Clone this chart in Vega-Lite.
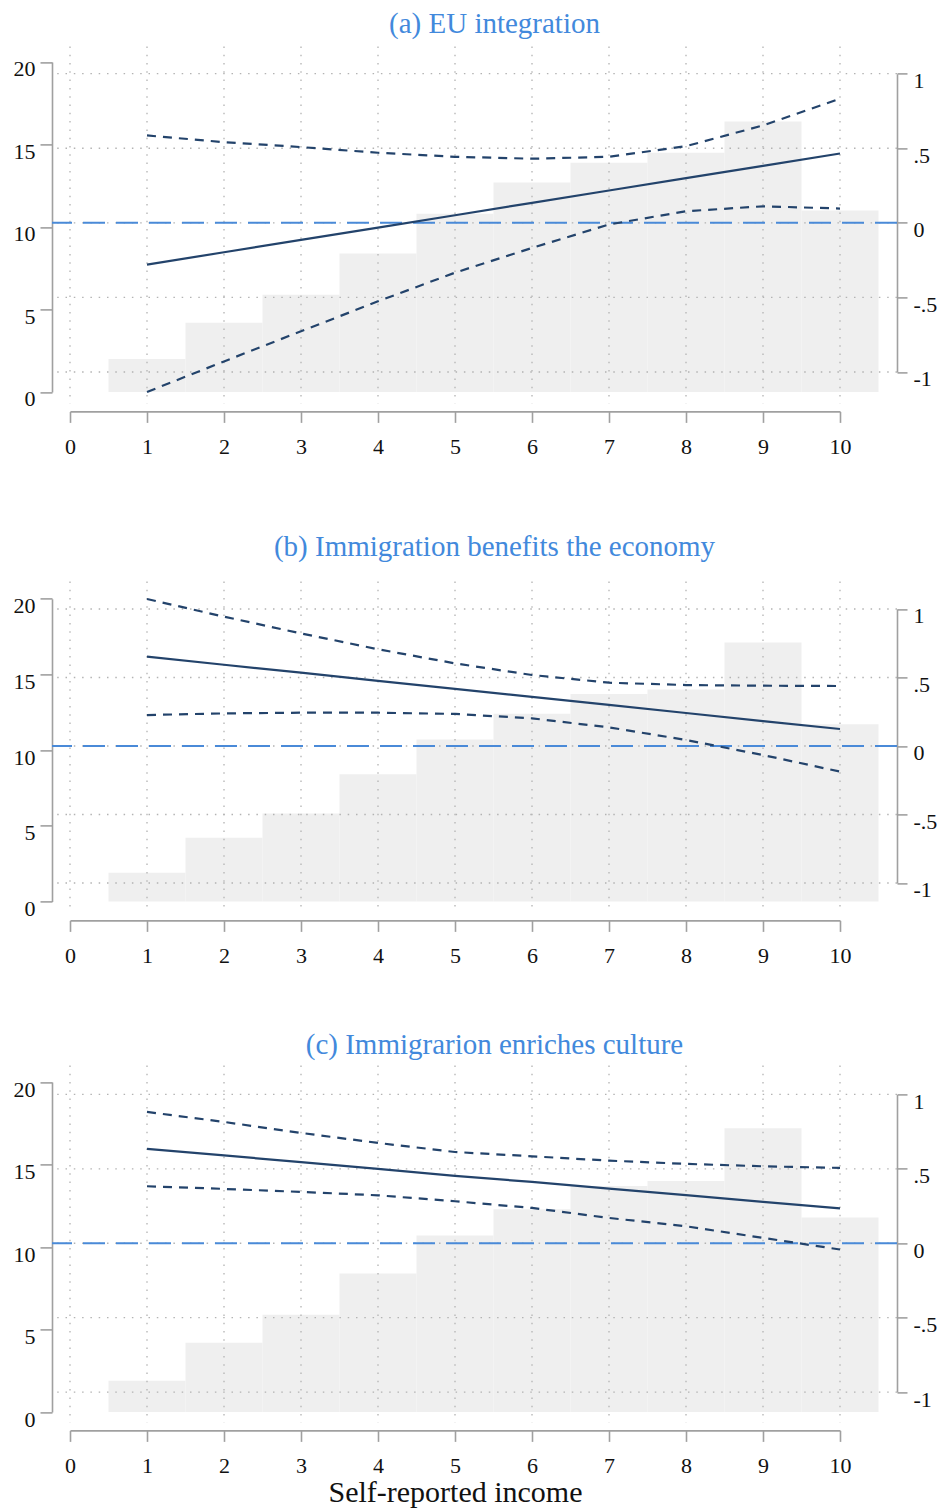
{
  "$schema": "https://vega.github.io/schema/vega-lite/v6.json",
  "padding": {"left": 13, "top": 10.4, "right": 5, "bottom": 5},
  "background": "white",
  "datasets": {
    "hist": [
      {"p": "a", "x": 1, "pct": 2.0}, {"p": "a", "x": 2, "pct": 4.2}, {"p": "a", "x": 3, "pct": 5.9}, {"p": "a", "x": 4, "pct": 8.4}, {"p": "a", "x": 5, "pct": 10.8},
      {"p": "a", "x": 6, "pct": 12.7}, {"p": "a", "x": 7, "pct": 13.9}, {"p": "a", "x": 8, "pct": 14.5}, {"p": "a", "x": 9, "pct": 16.4}, {"p": "a", "x": 10, "pct": 11.0},
      {"p": "b", "x": 1, "pct": 1.9}, {"p": "b", "x": 2, "pct": 4.2}, {"p": "b", "x": 3, "pct": 5.8}, {"p": "b", "x": 4, "pct": 8.4}, {"p": "b", "x": 5, "pct": 10.7},
      {"p": "b", "x": 6, "pct": 12.4}, {"p": "b", "x": 7, "pct": 13.7}, {"p": "b", "x": 8, "pct": 14.0}, {"p": "b", "x": 9, "pct": 17.1}, {"p": "b", "x": 10, "pct": 11.7},
      {"p": "c", "x": 1, "pct": 1.9}, {"p": "c", "x": 2, "pct": 4.2}, {"p": "c", "x": 3, "pct": 5.9}, {"p": "c", "x": 4, "pct": 8.4}, {"p": "c", "x": 5, "pct": 10.7},
      {"p": "c", "x": 6, "pct": 12.3}, {"p": "c", "x": 7, "pct": 13.7}, {"p": "c", "x": 8, "pct": 14.0}, {"p": "c", "x": 9, "pct": 17.2}, {"p": "c", "x": 10, "pct": 11.8}
    ],
    "ci": [
      {"p": "a", "x": 1, "est": -0.28, "lo": -1.134, "hi": 0.586},
      {"p": "a", "x": 2, "est": -0.197, "lo": -0.929, "hi": 0.541},
      {"p": "a", "x": 3, "est": -0.114, "lo": -0.727, "hi": 0.508},
      {"p": "a", "x": 4, "est": -0.032, "lo": -0.526, "hi": 0.47},
      {"p": "a", "x": 5, "est": 0.051, "lo": -0.334, "hi": 0.443},
      {"p": "a", "x": 6, "est": 0.134, "lo": -0.168, "hi": 0.43},
      {"p": "a", "x": 7, "est": 0.217, "lo": -0.011, "hi": 0.443},
      {"p": "a", "x": 8, "est": 0.30, "lo": 0.078, "hi": 0.514},
      {"p": "a", "x": 9, "est": 0.382, "lo": 0.111, "hi": 0.653},
      {"p": "a", "x": 10, "est": 0.465, "lo": 0.096, "hi": 0.832},
      {"p": "b", "x": 1, "est": 0.652, "lo": 0.226, "hi": 1.073},
      {"p": "b", "x": 2, "est": 0.593, "lo": 0.238, "hi": 0.944},
      {"p": "b", "x": 3, "est": 0.535, "lo": 0.243, "hi": 0.822},
      {"p": "b", "x": 4, "est": 0.476, "lo": 0.243, "hi": 0.706},
      {"p": "b", "x": 5, "est": 0.417, "lo": 0.234, "hi": 0.603},
      {"p": "b", "x": 6, "est": 0.359, "lo": 0.202, "hi": 0.518},
      {"p": "b", "x": 7, "est": 0.300, "lo": 0.136, "hi": 0.462},
      {"p": "b", "x": 8, "est": 0.241, "lo": 0.044, "hi": 0.445},
      {"p": "b", "x": 9, "est": 0.182, "lo": -0.066, "hi": 0.44},
      {"p": "b", "x": 10, "est": 0.124, "lo": -0.187, "hi": 0.438},
      {"p": "c", "x": 1, "est": 0.634, "lo": 0.383, "hi": 0.882},
      {"p": "c", "x": 2, "est": 0.59, "lo": 0.365, "hi": 0.815},
      {"p": "c", "x": 3, "est": 0.545, "lo": 0.345, "hi": 0.741},
      {"p": "c", "x": 4, "est": 0.5, "lo": 0.322, "hi": 0.674},
      {"p": "c", "x": 5, "est": 0.452, "lo": 0.282, "hi": 0.613},
      {"p": "c", "x": 6, "est": 0.412, "lo": 0.237, "hi": 0.584},
      {"p": "c", "x": 7, "est": 0.367, "lo": 0.17, "hi": 0.555},
      {"p": "c", "x": 8, "est": 0.323, "lo": 0.114, "hi": 0.533},
      {"p": "c", "x": 9, "est": 0.278, "lo": 0.036, "hi": 0.517},
      {"p": "c", "x": 10, "est": 0.234, "lo": -0.042, "hi": 0.506}
    ],
    "xgrid": [{"g": 0}, {"g": 1}, {"g": 2}, {"g": 3}, {"g": 4}, {"g": 5}, {"g": 6}, {"g": 7}, {"g": 8}, {"g": 9}, {"g": 10}],
    "ygrid": [{"v": -1}, {"v": -0.5}, {"v": 0}, {"v": 0.5}, {"v": 1}]
  },
  "vconcat": [
    {
      "title": {"text": "(a) EU integration", "offset": 6.3, "dx": 20},
      "width": 845,
      "height": 357,
      "layer": [
        {
          "data": {"name": "hist"},
          "transform": [{"filter": "datum.p == 'a'"}],
          "mark": {"type": "bar", "width": 77, "color": "#efefef"},
          "encoding": {
            "x": {"field": "x", "type": "quantitative", "scale": {"domain": [0, 10], "range": [18, 788], "padding": 0, "nice": false, "zero": false},
              "axis": {"values": [0,1,2,3,4,5,6,7,8,9,10], "format": "d", "tickSize": 11, "offset": 8, "labelPadding": 14, "labelBaseline": "top", "grid": false, "labelFlush": false, "labelOverlap": false, "title": " ", "titleFontSize": 10, "titlePadding": 2, "titleBaseline": "top"}},
            "y": {"field": "pct", "type": "quantitative", "scale": {"domain": [0, 20], "range": [345.6, 15.6]},
              "axis": {"orient": "left", "values": [0, 5, 10, 15, 20], "format": "d", "tickSize": 12, "labelPadding": 5, "labelOffset": 7, "grid": false, "title": null}}
          }
        },
        {
          "layer": [
            {
              "data": {"name": "xgrid"},
              "mark": {"type": "rule", "color": "#b3b3b3", "strokeWidth": 1.3, "strokeDash": [1.5, 6.8]},
              "encoding": {"x": {"field": "g", "type": "quantitative"}}
            },
            {
              "data": {"name": "ygrid"},
              "mark": {"type": "rule", "color": "#b3b3b3", "strokeWidth": 1.3, "strokeDash": [1.5, 6.8]},
              "encoding": {"y": {"field": "v", "type": "quantitative"}}
            },
            {
              "data": {"values": [{}]},
              "mark": {"type": "rule", "color": "#4a8ad8", "strokeWidth": 2, "strokeDash": [22, 11]},
              "encoding": {
                "y": {"datum": 0, "type": "quantitative", "scale": {"domain": [-1, 1], "range": [325.6, 27.3]},
                  "axis": {"orient": "right", "values": [-1, -0.5, 0, 0.5, 1], "tickSize": 10, "labelPadding": 6, "labelOffset": 7, "grid": false, "title": null, "labelExpr": "datum.value == 1 ? '1' : datum.value == 0.5 ? '.5' : datum.value == 0 ? '0' : datum.value == -0.5 ? '-.5' : '-1'"}}
              }
            },
            {
              "data": {"name": "ci"},
              "transform": [{"filter": "datum.p == 'a'"}],
              "mark": {"type": "line", "color": "#23436b", "strokeWidth": 2.2},
              "encoding": {"x": {"field": "x", "type": "quantitative"}, "y": {"field": "est", "type": "quantitative"}}
            },
            {
              "data": {"name": "ci"},
              "transform": [{"filter": "datum.p == 'a'"}],
              "mark": {"type": "line", "color": "#23436b", "strokeWidth": 2.2, "strokeDash": [9, 7]},
              "encoding": {"x": {"field": "x", "type": "quantitative"}, "y": {"field": "lo", "type": "quantitative"}}
            },
            {
              "data": {"name": "ci"},
              "transform": [{"filter": "datum.p == 'a'"}],
              "mark": {"type": "line", "color": "#23436b", "strokeWidth": 2.2, "strokeDash": [9, 7]},
              "encoding": {"x": {"field": "x", "type": "quantitative"}, "y": {"field": "hi", "type": "quantitative"}}
            }
          ]
        }
      ],
      "resolve": {"scale": {"y": "independent"}}
    },
    {
      "title": {"text": "(b) Immigration benefits the economy", "offset": 18.3, "dx": 20},
      "width": 845,
      "height": 332,
      "layer": [
        {
          "data": {"name": "hist"},
          "transform": [{"filter": "datum.p == 'b'"}],
          "mark": {"type": "bar", "width": 77, "color": "#efefef"},
          "encoding": {
            "x": {"field": "x", "type": "quantitative", "scale": {"domain": [0, 10], "range": [18, 788], "padding": 0, "nice": false, "zero": false},
              "axis": {"values": [0,1,2,3,4,5,6,7,8,9,10], "format": "d", "tickSize": 11, "offset": 7, "labelPadding": 14, "labelBaseline": "top", "grid": false, "labelFlush": false, "labelOverlap": false, "title": null}},
            "y": {"field": "pct", "type": "quantitative", "scale": {"domain": [0, 20], "range": [320, 17.3]},
              "axis": {"orient": "left", "values": [0, 5, 10, 15, 20], "format": "d", "tickSize": 12, "labelPadding": 5, "labelOffset": 7, "grid": false, "title": null}}
          }
        },
        {
          "layer": [
            {
              "data": {"name": "xgrid"},
              "mark": {"type": "rule", "color": "#b3b3b3", "strokeWidth": 1.3, "strokeDash": [1.5, 6.8]},
              "encoding": {"x": {"field": "g", "type": "quantitative"}}
            },
            {
              "data": {"name": "ygrid"},
              "mark": {"type": "rule", "color": "#b3b3b3", "strokeWidth": 1.3, "strokeDash": [1.5, 6.8]},
              "encoding": {"y": {"field": "v", "type": "quantitative"}}
            },
            {
              "data": {"values": [{}]},
              "mark": {"type": "rule", "color": "#4a8ad8", "strokeWidth": 2, "strokeDash": [22, 11]},
              "encoding": {
                "y": {"datum": 0, "type": "quantitative", "scale": {"domain": [-1, 1], "range": [301.6, 27.6]},
                  "axis": {"orient": "right", "values": [-1, -0.5, 0, 0.5, 1], "tickSize": 10, "labelPadding": 6, "labelOffset": 7, "grid": false, "title": null, "labelExpr": "datum.value == 1 ? '1' : datum.value == 0.5 ? '.5' : datum.value == 0 ? '0' : datum.value == -0.5 ? '-.5' : '-1'"}}
              }
            },
            {
              "data": {"name": "ci"},
              "transform": [{"filter": "datum.p == 'b'"}],
              "mark": {"type": "line", "color": "#23436b", "strokeWidth": 2.2},
              "encoding": {"x": {"field": "x", "type": "quantitative"}, "y": {"field": "est", "type": "quantitative"}}
            },
            {
              "data": {"name": "ci"},
              "transform": [{"filter": "datum.p == 'b'"}],
              "mark": {"type": "line", "color": "#23436b", "strokeWidth": 2.2, "strokeDash": [9, 7]},
              "encoding": {"x": {"field": "x", "type": "quantitative"}, "y": {"field": "lo", "type": "quantitative"}}
            },
            {
              "data": {"name": "ci"},
              "transform": [{"filter": "datum.p == 'b'"}],
              "mark": {"type": "line", "color": "#23436b", "strokeWidth": 2.2, "strokeDash": [9, 7]},
              "encoding": {"x": {"field": "x", "type": "quantitative"}, "y": {"field": "hi", "type": "quantitative"}}
            }
          ]
        }
      ],
      "resolve": {"scale": {"y": "independent"}}
    },
    {
      "title": {"text": "(c) Immigrarion enriches culture", "offset": 4.9, "dx": 20},
      "width": 845,
      "height": 357,
      "layer": [
        {
          "data": {"name": "hist"},
          "transform": [{"filter": "datum.p == 'c'"}],
          "mark": {"type": "bar", "width": 77, "color": "#efefef"},
          "encoding": {
            "x": {"field": "x", "type": "quantitative", "scale": {"domain": [0, 10], "range": [18, 788], "padding": 0, "nice": false, "zero": false},
              "axis": {"values": [0,1,2,3,4,5,6,7,8,9,10], "format": "d", "tickSize": 11, "offset": 8, "labelPadding": 14, "labelBaseline": "top", "grid": false, "labelFlush": false, "labelOverlap": false, "title": "Self-reported income", "titleFontSize": 30, "titlePadding": 25, "titleBaseline": "alphabetic"}},
            "y": {"field": "pct", "type": "quantitative", "scale": {"domain": [0, 20], "range": [346.7, 16.7]},
              "axis": {"orient": "left", "values": [0, 5, 10, 15, 20], "format": "d", "tickSize": 12, "labelPadding": 5, "labelOffset": 7, "grid": false, "title": null}}
          }
        },
        {
          "layer": [
            {
              "data": {"name": "xgrid"},
              "mark": {"type": "rule", "color": "#b3b3b3", "strokeWidth": 1.3, "strokeDash": [1.5, 6.8]},
              "encoding": {"x": {"field": "g", "type": "quantitative"}}
            },
            {
              "data": {"name": "ygrid"},
              "mark": {"type": "rule", "color": "#b3b3b3", "strokeWidth": 1.3, "strokeDash": [1.5, 6.8]},
              "encoding": {"y": {"field": "v", "type": "quantitative"}}
            },
            {
              "data": {"values": [{}]},
              "mark": {"type": "rule", "color": "#4a8ad8", "strokeWidth": 2, "strokeDash": [22, 11]},
              "encoding": {
                "y": {"datum": 0, "type": "quantitative", "scale": {"domain": [-1, 1], "range": [326.7, 29]},
                  "axis": {"orient": "right", "values": [-1, -0.5, 0, 0.5, 1], "tickSize": 10, "labelPadding": 6, "labelOffset": 7, "grid": false, "title": null, "labelExpr": "datum.value == 1 ? '1' : datum.value == 0.5 ? '.5' : datum.value == 0 ? '0' : datum.value == -0.5 ? '-.5' : '-1'"}}
              }
            },
            {
              "data": {"name": "ci"},
              "transform": [{"filter": "datum.p == 'c'"}],
              "mark": {"type": "line", "color": "#23436b", "strokeWidth": 2.2},
              "encoding": {"x": {"field": "x", "type": "quantitative"}, "y": {"field": "est", "type": "quantitative"}}
            },
            {
              "data": {"name": "ci"},
              "transform": [{"filter": "datum.p == 'c'"}],
              "mark": {"type": "line", "color": "#23436b", "strokeWidth": 2.2, "strokeDash": [9, 7]},
              "encoding": {"x": {"field": "x", "type": "quantitative"}, "y": {"field": "lo", "type": "quantitative"}}
            },
            {
              "data": {"name": "ci"},
              "transform": [{"filter": "datum.p == 'c'"}],
              "mark": {"type": "line", "color": "#23436b", "strokeWidth": 2.2, "strokeDash": [9, 7]},
              "encoding": {"x": {"field": "x", "type": "quantitative"}, "y": {"field": "hi", "type": "quantitative"}}
            }
          ]
        }
      ],
      "resolve": {"scale": {"y": "independent"}}
    }
  ],
  "spacing": 64,
  "config": {
    "view": {"stroke": null},
    "font": "Liberation Serif",
    "axis": {
      "domainColor": "#a0a0a0", "domainWidth": 1.6, "tickColor": "#a0a0a0", "tickWidth": 1.6,
      "labelColor": "#111111", "labelFontSize": 22, "labelFont": "Liberation Serif",
      "titleFont": "Liberation Serif", "titleFontWeight": "normal", "titleColor": "#111111"
    },
    "title": {"font": "Liberation Serif", "fontSize": 29, "fontWeight": "normal", "color": "#4289dc", "anchor": "middle", "frame": "group", "baseline": "alphabetic"}
  }
}
